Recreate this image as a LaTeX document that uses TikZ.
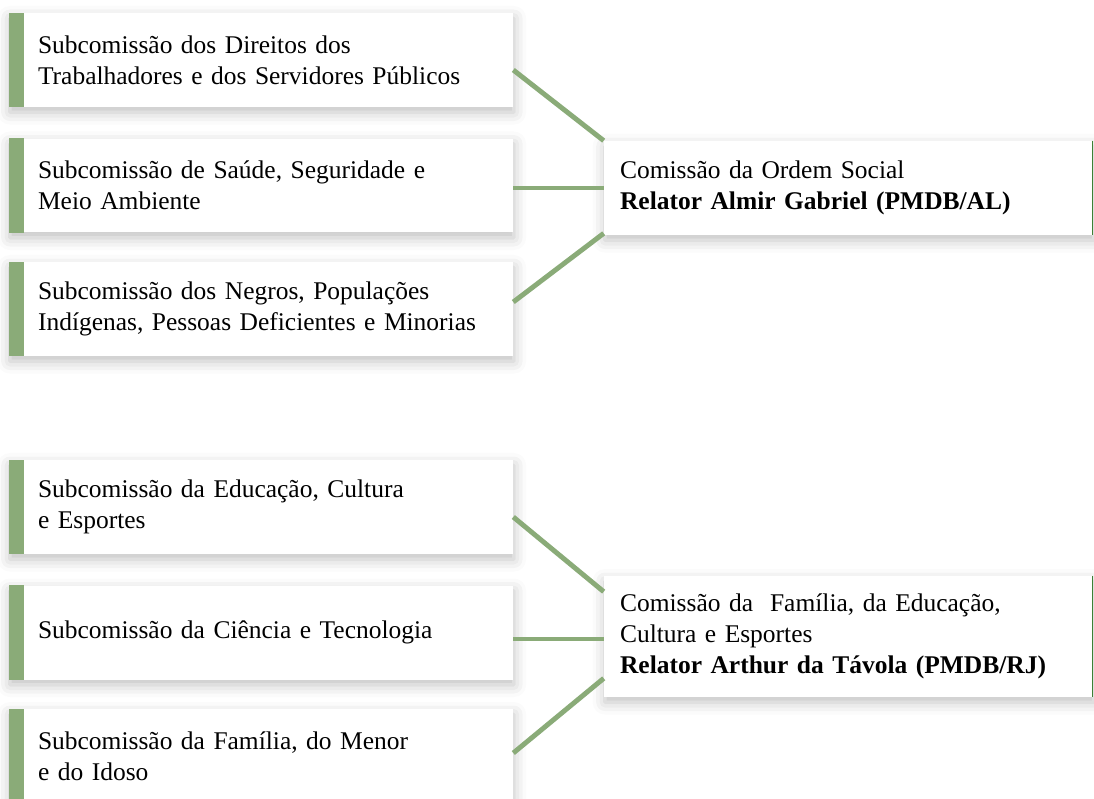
\documentclass[tikz,border=0pt]{standalone}
\usepackage{fontspec}
\setmainfont{Liberation Serif}
\usepackage{tikz}
\usetikzlibrary{positioning, shadows.blur}

\definecolor{barGreen}{HTML}{8AAB78}
\definecolor{edgeGreen}{HTML}{3F7F34}

\tikzset{
    subbox/.style={rectangle, fill=white, minimum width=10.08cm, minimum height=1.88cm,
        text width=8.92cm, inner xsep=0.58cm, align=left,
        font=\fontsize{14.5}{17.6}\selectfont,
        blur shadow={shadow xshift=0.5pt, shadow yshift=-3pt, shadow blur radius=7pt, shadow opacity=25}},
    combox/.style={subbox, minimum width=9.78cm, text width=9.14cm, inner xsep=0.32cm},
    link/.style={draw=barGreen, line width=2.8pt}
}

\begin{document}
\begin{tikzpicture}[x=0.02cm, y=-0.02cm]
    \useasboundingbox (0,0) rectangle (1094,798);

    % upper group
    \node[subbox] (dir) at (261,60) {Subcomissão dos Direitos dos\\Trabalhadores e dos Servidores Públicos};
    \node[subbox] (sau) at (261,185.5) {Subcomissão de Saúde, Seguridade e\\Meio Ambiente};
    \node[subbox] (neg) at (261,309) {Subcomissão dos Negros, Populações\\Indígenas, Pessoas Deficientes e Minorias};
    \node[combox] (ordem) at (848.5,188) {Comissão da Ordem Social\\\textbf{Relator Almir Gabriel (PMDB/AL)}};

    % lower group
    \node[subbox] (edu) at (261,507) {Subcomissão da Educação, Cultura\\e Esportes};
    \node[subbox] (cie) at (261,632.5) {Subcomissão da Ciência e Tecnologia};
    \node[subbox] (fam) at (261,756) {Subcomissão da Família, do Menor\\e do Idoso};
    \node[combox, minimum height=2.42cm] (familia) at (848.5,636.5) {Comissão da\ \ Família, da Educação,\\Cultura e Esportes\\\textbf{Relator Arthur da Távola (PMDB/RJ)}};

    % green bars
    \foreach \n in {dir, sau, neg, edu, cie, fam} {
        \fill[barGreen] (\n.north west) rectangle ([xshift=0.3cm]\n.south west);
    }
    \foreach \n in {ordem, familia} {
        \draw[edgeGreen, line width=1pt] ([xshift=-0.5pt]\n.north east) -- ([xshift=-0.5pt]\n.south east);
    }

    % connectors
    \draw[link] ([yshift=-0.2cm]dir.east) -- (ordem.north west);
    \draw[link] ([yshift=-0.05cm]sau.east) -- ([yshift=-0.05cm]sau.east -| ordem.west);
    \draw[link] ([yshift=0.14cm]neg.east) -- ([yshift=0.04cm]ordem.south west);
    \draw[link] ([yshift=-0.2cm]edu.east) -- ([yshift=-0.32cm]familia.north west);
    \draw[link] ([yshift=-0.13cm]cie.east) -- ([yshift=-0.13cm]cie.east -| familia.west);
    \draw[link] ([yshift=0.06cm]fam.east) -- ([yshift=0.38cm]familia.south west);
\end{tikzpicture}
\end{document}
